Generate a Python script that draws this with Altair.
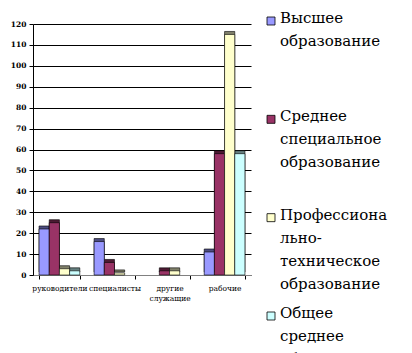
import altair as alt
import pandas as pd

categories = ["руководители", "специалисты", "другие служащие", "рабочие"]
series = ["Высшее образование", "Среднее специальное образование",
          "Профессионально-техническое образование", "Общее среднее образование"]
legend_labels = ["Высшее\nобразование", "Среднее\nспециальное\nобразование",
                 "Профессиона\nльно-\nтехническое\nобразование", "Общее\nсреднее\nобразование"]
higher = [22, 16, 0, 11]
secondary_special = [25, 6, 2, 58]
vocational = [3, 1, 2, 115]
general = [2, 0, 0, 58]
colors = ["#9999FF", "#993366", "#FFFFCC", "#CCFFFF"]
side_colors = ["#4D4D80", "#4D1A33", "#80806A", "#668080"]

rows = []
for s, vals in zip(series, [higher, secondary_special, vocational, general]):
    for c, v in zip(categories, vals):
        rows.append({"category": c, "series": s, "value": v})
df = pd.DataFrame(rows)
leg = pd.DataFrame({"series": series, "label": legend_labels})

FONT = "DejaVu Serif"

x = alt.X("category:N", sort=categories, title=None,
          scale=alt.Scale(paddingInner=0.26, paddingOuter=0.11),
          axis=alt.Axis(labelAngle=0, labelFont=FONT, labelFontSize=7.5, labelColor="black",
                        labelExpr="split(datum.label, ' ')", tickBand="extent",
                        domainColor="#808080", tickColor="black", tickSize=4,
                        labelPadding=5, labelLineHeight=10))
xo = alt.XOffset("series:N", sort=series, scale=alt.Scale(paddingInner=0))
y = alt.Y("value:Q", title=None,
          scale=alt.Scale(domain=[0, 120], nice=False),
          axis=alt.Axis(values=list(range(0, 121, 10)), labelFont=FONT, labelFontSize=7.5,
                        labelFontWeight="bold", labelColor="black", gridColor="black",
                        gridWidth=1, domainColor="black", tickColor="black", tickSize=4,
                        labelPadding=3))

base = alt.Chart(df).transform_filter("datum.value > 0")
shadow = base.mark_bar(xOffset=3, yOffset=-3, stroke="black", strokeWidth=0.6).encode(
    x=x, xOffset=xo, y=y,
    color=alt.Color("series:N", sort=series, scale=alt.Scale(domain=series, range=side_colors), legend=None))
front = base.mark_bar(stroke="black", strokeWidth=0.6).encode(
    x=x, xOffset=xo, y=y,
    color=alt.Color("series:N", sort=series, scale=alt.Scale(domain=series, range=colors), legend=None))

bars = alt.layer(shadow, front).resolve_scale(color="independent").properties(width=218, height=251)

ly = alt.Y("series:N", sort=series, axis=None,
           scale=alt.Scale(domain=series, range=[-3, 292], padding=0))
lbase = alt.Chart(leg)
squares = lbase.mark_square(size=64, stroke="black", strokeWidth=0.8, opacity=1).encode(
    x=alt.value(8), y=ly,
    color=alt.Color("series:N", sort=series, scale=alt.Scale(domain=series, range=colors), legend=None))
texts = lbase.mark_text(align="left", baseline="top", dy=-10, lineBreak="\n", lineHeight=23,
                        font=FONT, fontSize=15, color="black").encode(
    x=alt.value(17), y=ly, text="label:N")
legend = alt.layer(squares, texts).properties(width=130, height=251)

chart = alt.hconcat(bars, legend, spacing=12).properties(
    padding={"left": 10, "top": 11, "right": 0, "bottom": 0},
    background="white",
).configure_view(strokeWidth=0, stroke="transparent")

chart.save("out.html", embed_options={"renderer": "svg", "actions": False})
